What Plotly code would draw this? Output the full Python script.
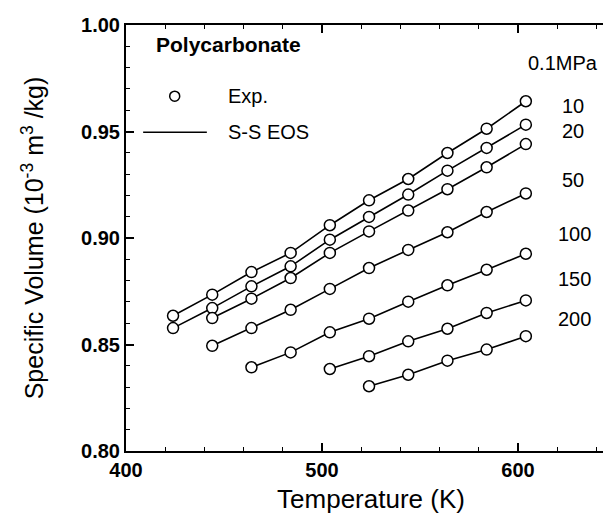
import plotly.graph_objects as go

# temperatures (K) of the measured points
temps = [424, 444, 464, 484, 504, 524, 544, 564, 584, 604]

# specific volume (10^-3 m3/kg) per pressure
v_01 = [0.8635, 0.8734, 0.8840, 0.8930, 0.9060, 0.9177, 0.9277, 0.9399, 0.9513, 0.9642]
v_10 = [0.8577, 0.8671, 0.8773, 0.8867, 0.8992, 0.9099, 0.9204, 0.9316, 0.9423, 0.9532]
v_20 = [0.8624, 0.8715, 0.8812, 0.8930, 0.9031, 0.9129, 0.9229, 0.9332, 0.9441]
v_50 = [0.8494, 0.8577, 0.8663, 0.8761, 0.8859, 0.8944, 0.9027, 0.9122, 0.9209]
v_100 = [0.8393, 0.8463, 0.8557, 0.8621, 0.8701, 0.8778, 0.8851, 0.8926]
v_150 = [0.8385, 0.8445, 0.8515, 0.8574, 0.8648, 0.8707]
v_200 = [0.8304, 0.8358, 0.8424, 0.8476, 0.8539]

series = [v_01, v_10, v_20, v_50, v_100, v_150, v_200]
pressure_labels = ["0.1MPa", "10", "20", "50", "100", "150", "200"]

# where the pressure labels sit (data coords)
label_x = [623.2, 628.3, 628.3, 628.3, 628.7, 628.7, 628.7]
label_y = [0.9822, 0.962, 0.9502, 0.9272, 0.902, 0.8809, 0.8621]

FONT = "Liberation Sans, Arial, sans-serif"

fig = go.Figure()

for vals in series:
    # each isotherm ends at 604 K, shorter series start later
    xs = temps[len(temps) - len(vals):]
    fig.add_trace(go.Scatter(
        x=xs, y=vals, mode="lines+markers",
        line=dict(color="black", width=1.6),
        marker=dict(symbol="circle", size=11, color="white",
                    line=dict(color="black", width=1.5)),
        showlegend=False,
    ))

for txt, lx, ly in zip(pressure_labels, label_x, label_y):
    fig.add_annotation(x=lx, y=ly, text=txt, showarrow=False,
                       font=dict(family=FONT, size=20, color="black"),
                       xanchor="center", yanchor="middle")

# hand-made legend box in the upper left
fig.add_annotation(xref="paper", yref="paper", x=0.058, y=0.955,
                   text="<b>Polycarbonate</b>", showarrow=False,
                   xanchor="left", yanchor="middle",
                   font=dict(family=FONT, size=21, color="black"))
fig.add_annotation(xref="paper", yref="paper", x=0.204, y=0.833,
                   text="Exp.", showarrow=False,
                   xanchor="left", yanchor="middle",
                   font=dict(family=FONT, size=20, color="black"))
fig.add_annotation(xref="paper", yref="paper", x=0.204, y=0.748,
                   text="S-S EOS", showarrow=False,
                   xanchor="left", yanchor="middle",
                   font=dict(family=FONT, size=20, color="black"))
fig.add_shape(type="circle", xref="paper", yref="paper",
              xsizemode="pixel", ysizemode="pixel",
              xanchor=0.0994, yanchor=0.833,
              x0=-5, x1=5, y0=-5, y1=5,
              line=dict(color="black", width=1.5), fillcolor="white")
fig.add_shape(type="line", xref="paper", yref="paper",
              x0=0.035, x1=0.165, y0=0.748, y1=0.748,
              line=dict(color="black", width=1.5))

fig.update_layout(
    width=611, height=521,
    margin=dict(l=118, r=3, t=17, b=78),
    plot_bgcolor="white", paper_bgcolor="white",
    font=dict(family=FONT, color="black"),
)

fig.update_xaxes(
    range=[400, 650], tick0=400, dtick=100, automargin=False,
    ticks="inside", ticklen=8, tickwidth=1.5, tickcolor="black",
    minor=dict(dtick=20, ticks="inside", ticklen=4, tickwidth=1.2, tickcolor="black"),
    showline=True, linecolor="black", linewidth=2, mirror="ticks",
    showgrid=False, zeroline=False,
    tickfont=dict(family=FONT, size=20, color="black", weight="bold"),
    title=dict(text="Temperature (K)", font=dict(family=FONT, size=26, color="black"),
               standoff=10),
)
fig.update_yaxes(
    range=[0.80, 1.00], tick0=0.8, dtick=0.05, tickformat=".2f", automargin=False,
    ticks="inside", ticklen=8, tickwidth=1.5, tickcolor="black",
    minor=dict(dtick=0.01, ticks="inside", ticklen=4, tickwidth=1.2, tickcolor="black"),
    showline=True, linecolor="black", linewidth=2, mirror="ticks",
    showgrid=False, zeroline=False,
    tickfont=dict(family=FONT, size=20, color="black", weight="bold"),
    title=dict(text="Specific Volume (10<sup>-3</sup> m<sup>3</sup> /kg)",
               font=dict(family=FONT, size=25, color="black"), standoff=30),
)

fig.write_html("out.html")
